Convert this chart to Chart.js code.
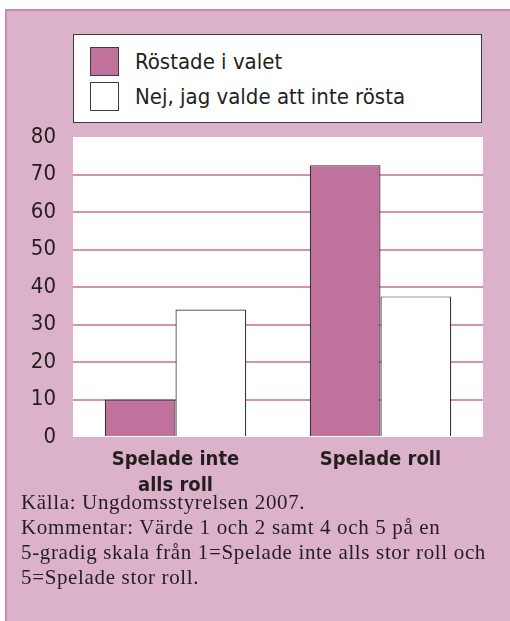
<!DOCTYPE html>
<html>
<head>
<meta charset="utf-8">
<script src="https://cdn.jsdelivr.net/npm/chart.js@4/dist/chart.umd.min.js"></script>
<style>
  html, body { margin:0; padding:0; background:#ffffff; }
  #wrap { position:relative; width:510px; height:621px; overflow:hidden; background:#ffffff; }
  #panel { position:absolute; left:5px; top:9px; right:0; bottom:0; background:#dcb1ca;
           border-top:2px solid #c98cae; border-left:2px solid #c98cae; }
  #chart { position:absolute; left:0; top:0; }
  #legend { position:absolute; left:73px; top:34px; width:407px; height:87px; background:#fff;
            border:1.5px solid #3c3c3c; font-family:"DejaVu Sans Condensed","Liberation Sans Narrow",sans-serif;
            color:#231f20; font-size:22px; }
  .item { position:absolute; left:16px; height:30px; line-height:30px; white-space:nowrap; }
  .sw { display:inline-block; width:29px; height:29px; border:1px solid #3c3c3c; vertical-align:top; margin-right:16px; box-sizing:border-box; }
  #footer { position:absolute; left:21px; top:490px; font-family:"Liberation Serif","DejaVu Serif",serif;
            font-size:21px; letter-spacing:0.65px; line-height:25px; color:#231f20; white-space:nowrap; }
</style>
</head>
<body>
<div id="wrap">
  <div id="panel"></div>
  <div id="legend"></div>
  <canvas id="chart" width="510" height="621"></canvas>
  <div id="footer"></div>
</div>
<script>
const categories = [["Spelade inte", "alls roll"], "Spelade roll"];
const seriesNames = ["Röstade i valet", "Nej, jag valde att inte rösta"];
const votedValues = [10, 72.5];
const notVotedValues = [34, 37.5];
const yTicks = [0, 10, 20, 30, 40, 50, 60, 70, 80];
const footerLines = [
  "Källa: Ungdomsstyrelsen 2007.",
  "Kommentar: Värde 1 och 2 samt 4 och 5 på en",
  "5-gradig skala från 1=Spelade inte alls stor roll och",
  "5=Spelade stor roll."
];

const colors = ["#c0729c", "#ffffff"];

// legend
const legendEl = document.getElementById('legend');
seriesNames.forEach((name, i) => {
  const d = document.createElement('div');
  d.className = 'item';
  d.style.top = (12 + i * 35) + 'px';
  const s = document.createElement('span');
  s.className = 'sw';
  s.style.background = colors[i];
  d.appendChild(s);
  d.appendChild(document.createTextNode(name));
  legendEl.appendChild(d);
});
document.getElementById('footer').innerHTML = footerLines.map(l => '<div>' + l + '</div>').join('');

const plotBg = {
  id: 'plotBg',
  beforeDraw(chart) {
    const a = chart.chartArea, c = chart.ctx;
    c.save(); c.fillStyle = '#ffffff';
    c.fillRect(a.left, a.top, a.right - a.left, a.bottom - a.top);
    c.restore();
  }
};

const sansCond = '"DejaVu Sans Condensed","Liberation Sans Narrow",sans-serif';

new Chart(document.getElementById('chart'), {
  type: 'bar',
  data: {
    labels: categories,
    datasets: [
      { label: seriesNames[0], data: votedValues, backgroundColor: colors[0], borderColor: '#333333', borderWidth: 1.2 },
      { label: seriesNames[1], data: notVotedValues, backgroundColor: colors[1], borderColor: '#333333', borderWidth: 1.2 }
    ]
  },
  options: {
    responsive: false,
    animation: false,
    devicePixelRatio: 1,
    layout: { padding: { top: 137, right: 27, bottom: 124, left: 0 } },
    datasets: { bar: { categoryPercentage: 0.69, barPercentage: 1.0 } },
    plugins: { legend: { display: false }, tooltip: { enabled: false } },
    scales: {
      x: {
        grid: { display: false, drawTicks: false },
        border: { display: false },
        ticks: {
          color: '#231f20', padding: 10,
          font: { family: sansCond, size: 20, weight: 'bold', lineHeight: 1.3 }
        },
        afterFit(s) { s.height = 60; }
      },
      y: {
        min: 0, max: 80,
        afterBuildTicks(s) { s.ticks = yTicks.map(v => ({ value: v })); },
        grid: {
          drawTicks: false,
          lineWidth: 2,
          color: (ctx) => (ctx.tick && (ctx.tick.value === 0 || ctx.tick.value === 80)) ? 'rgba(0,0,0,0)' : '#d690b8'
        },
        border: { display: false },
        ticks: {
          color: '#231f20', padding: 17,
          font: { family: sansCond, size: 22 }
        },
        afterFit(s) { s.width = 73; }
      }
    }
  },
  plugins: [plotBg]
});
</script>
</body>
</html>
